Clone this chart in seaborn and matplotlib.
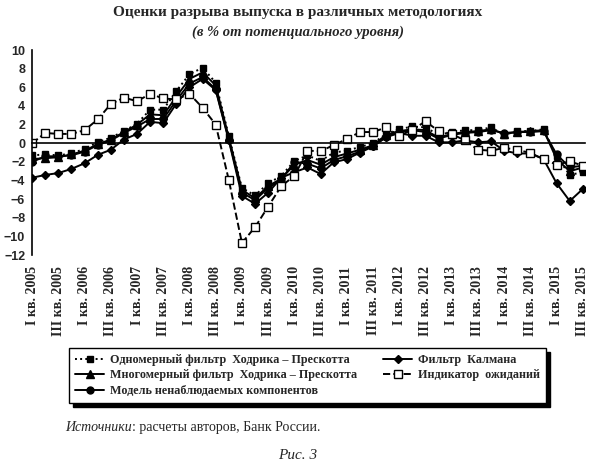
import matplotlib
matplotlib.use("Agg")
import matplotlib.pyplot as plt
import pandas as pd
import seaborn as sns

# quarterly labels, I кв. 2005 .. III кв. 2015
roman = ["I", "II", "III", "IV"]
quarters = [f"{roman[q]} кв. {y}" for y in range(2005, 2016) for q in range(4)][:43]

hp_single = [-1.3, -1.2, -1.3, -1.1, -0.6, 0.1, 0.6, 1.3, 2.1, 3.6, 3.6, 5.6, 7.4, 8.1, 6.5, 0.8,
             -4.8, -5.6, -4.3, -3.5, -1.9, -1.3, -1.9, -1.0, -0.8, -0.4, 0.0, 1.0, 1.5, 1.8, 1.7,
             0.9, 1.2, 1.4, 1.4, 1.7, 0.9, 1.3, 1.3, 1.5, -1.4, -3.4, -3.1]
hp_multi = [-1.7, -1.6, -1.5, -1.2, -0.8, -0.1, 0.4, 1.2, 2.0, 3.1, 3.0, 5.0, 6.9, 7.6, 6.2, 0.6,
            -5.0, -5.9, -4.6, -3.8, -2.3, -1.8, -2.3, -1.5, -1.1, -0.7, -0.2, 0.9, 1.3, 1.5, 1.4,
            0.6, 1.0, 1.2, 1.3, 1.5, 1.0, 1.2, 1.3, 1.4, -1.7, -3.0, -2.6]
uc_model = [-2.0, -1.4, -1.4, -1.3, -0.9, -0.2, 0.3, 1.1, 1.8, 2.6, 2.6, 4.6, 6.4, 7.1, 5.8, 0.4,
            -5.3, -6.1, -4.8, -3.9, -2.0, -2.2, -2.7, -1.8, -1.4, -0.9, -0.3, 0.7, 1.2, 1.4, 1.2,
            0.5, 0.9, 1.1, 1.2, 1.4, 1.1, 1.2, 1.2, 1.3, -1.2, -2.6, -2.4]
kalman = [-3.7, -3.4, -3.2, -2.75, -2.15, -1.25, -0.7, 0.4, 1.0, 2.3, 2.15, 4.25, 6.0, 6.9, 5.7, 0.3,
          -5.65, -6.5, -5.3, -3.7, -3.1, -2.6, -3.3, -2.05, -1.7, -1.0, -0.35, 0.65, 1.1, 0.8, 0.8,
          0.1, 0.1, 0.3, 0.1, 0.2, -0.8, -1.1, -1.1, -1.7, -4.3, -6.2, -4.9]
expect = [0.0, 1.1, 1.0, 1.0, 1.4, 2.55, 4.2, 4.9, 4.5, 5.3, 4.8, 4.7, 5.3, 3.8, 2.0, -3.95,
          -10.7, -9.0, -6.8, -4.6, -3.5, -0.8, -0.85, -0.2, 0.45, 1.2, 1.2, 1.7, 0.8, 1.45, 2.35,
          1.3, 1.0, 0.3, -0.7, -0.8, -0.5, -0.7, -1.05, -1.7, -2.3, -1.95, -2.4]

df = pd.DataFrame({
    "t": range(len(quarters)),
    "hp_single": hp_single,
    "hp_multi": hp_multi,
    "uc_model": uc_model,
    "kalman": kalman,
    "expect": expect,
})

sns.set_style("white")
plt.rcParams["font.family"] = ["Liberation Serif", "DejaVu Serif"]

fig = plt.figure(figsize=(5.95, 4.63), dpi=100)
ax = fig.add_axes([0.054, 0.449, 0.93, 0.443])

styles = [
    ("hp_single", "Одномерный фильтр  Ходрика – Прескотта",
     dict(marker="s", linestyle=":", markersize=5, markerfacecolor="black")),
    ("hp_multi", "Многомерный фильтр  Ходрика – Прескотта",
     dict(marker="^", linestyle="-", markersize=5.5, markerfacecolor="black")),
    ("uc_model", "Модель ненаблюдаемых компонентов",
     dict(marker="o", linestyle="-", markersize=5, markerfacecolor="black")),
    ("kalman", "Фильтр  Калмана",
     dict(marker="D", linestyle="-", markersize=4, markerfacecolor="black")),
    ("expect", "Индикатор  ожиданий",
     dict(marker="s", linestyle="--", markersize=5.5, markerfacecolor="white")),
]
for col, label, kw in styles:
    sns.lineplot(data=df, x="t", y=col, ax=ax, color="black", linewidth=1.4,
                 markeredgecolor="black", markeredgewidth=1.0, label=label, **kw)

ax.set_xlim(0, 42.2)
ax.set_ylim(-12, 10)
ax.set_yticks(range(-12, 11, 2))
ax.set_yticklabels([str(v).replace("-", "\u2212") for v in range(-12, 11, 2)],
                   family="Liberation Sans", fontweight="bold", fontsize=9)
ax.tick_params(axis="y", direction="out", length=3, width=1, pad=2)
ax.set_xlabel("")
ax.set_ylabel("")

for s in ["top", "right"]:
    ax.spines[s].set_visible(False)
ax.spines["left"].set_linewidth(1.2)
ax.spines["left"].set_color("black")
ax.spines["bottom"].set_position(("data", 0))
ax.spines["bottom"].set_linewidth(1.2)
ax.spines["bottom"].set_color("black")

ticks = list(range(0, 43, 2))
ax.set_xticks(ticks)
ax.tick_params(axis="x", direction="out", length=3, width=1, labelbottom=False)

sec = ax.secondary_xaxis("bottom")
sec.set_xticks(ticks)
sec.set_xticklabels([quarters[i] for i in ticks], rotation=90, fontsize=10, fontweight="bold")
sec.tick_params(axis="x", length=0, pad=8)
sec.spines["bottom"].set_visible(False)

leg = ax.legend(loc="upper left", bbox_to_anchor=(0.106, 0.262), bbox_transform=fig.transFigure,
                ncol=2, frameon=True, fancybox=False,
                shadow={"color": "black", "alpha": 1, "ox": 3, "oy": -3},
                prop={"family": "Liberation Serif", "weight": "bold", "size": 8.7},
                handlelength=2.4, handletextpad=0.45, columnspacing=2.2, labelspacing=0.3,
                borderpad=0.5)
leg.get_frame().set_edgecolor("black")
leg.get_frame().set_linewidth(1.0)

fig.text(0.5, 0.972, "Оценки разрыва выпуска в различных методологиях", ha="center", va="center",
         fontsize=11, fontweight="bold")
fig.text(0.5, 0.931, "(в % от потенциального уровня)", ha="center", va="center",
         fontsize=10.5, fontweight="bold", style="italic")
src = fig.text(0.11, 0.077, "Источники", ha="left", va="center", fontsize=10, style="italic")
ax.annotate(": расчеты авторов, Банк России.", xy=(1, 0.5), xycoords=src,
            ha="left", va="center", fontsize=10, annotation_clip=False)
fig.text(0.5, 0.017, "Рис. 3", ha="center", va="center", fontsize=11, style="italic")

fig.savefig("out.png", dpi=100)
